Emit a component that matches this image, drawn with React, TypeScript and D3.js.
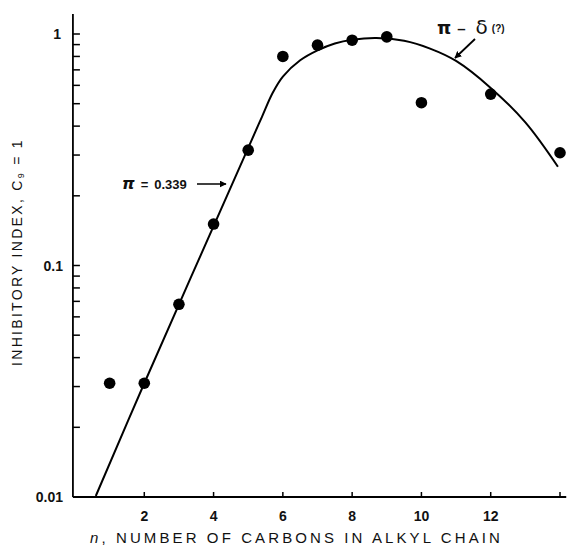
import React from "react";
import * as d3 from "d3";

// Measured inhibitory index vs. alkyl chain length
const carbons = [1, 2, 3, 4, 5, 6, 7, 8, 9, 10, 12, 14];
const inhibitoryIndex = [0.031, 0.031, 0.068, 0.151, 0.315, 0.80, 0.895, 0.94, 0.972, 0.505, 0.55, 0.307];

// Fitted curve: linear (log) rise with slope π = 0.339, then bending over
const curveN = [0.6, 2, 5.0, 5.4, 5.7, 6.0, 6.5, 7.0, 7.5, 8.0, 8.7, 9.5, 10.25, 11.0, 12.0, 13.0, 13.94];
const curveY = [0.0101, 0.031, 0.322, 0.44, 0.555, 0.655, 0.77, 0.85, 0.91, 0.945, 0.962, 0.935, 0.865, 0.765, 0.585, 0.415, 0.267];

const xTicks = [2, 4, 6, 8, 10, 12, 14];
const xTickLabels = ["2", "4", "6", "8", "10", "12", ""];
const yMajor = [1, 0.1, 0.01];
const yMajorLabels = ["1", "0.1", "0.01"];

const W = 570;
const H = 546;

export default function App() {
  const x = d3.scaleLinear().domain([0, 14]).range([75, 560]);
  const y = d3.scaleLog().domain([0.01, 1]).range([497, 34]);

  const xLeft = x(-0.06);
  const xRight = x(14.18);
  const yBottom = y(0.01);
  const yTop = 14;

  const minor: number[] = [];
  [0.01, 0.1].forEach((d) => {
    for (let k = 2; k <= 9; k++) minor.push(d * k);
  });

  const line = d3
    .line<number>()
    .x((_, i) => x(curveN[i]))
    .y((d) => y(d))
    .curve(d3.curveCatmullRom.alpha(0.5));

  const font = "'Liberation Sans', Arial, sans-serif";

  return (
    <svg width={W} height={H} style={{ display: "block", position: "absolute", left: 0, top: 0, background: "#fff" }}>
      <defs>
        <marker id="ah" viewBox="0 0 10 10" refX="9" refY="5" markerWidth="7" markerHeight="7" orient="auto-start-reverse" markerUnits="userSpaceOnUse">
          <path d="M0,0 L10,5 L0,10 z" fill="#000" />
        </marker>
      </defs>
      <rect width={W} height={H} fill="#fff" />

      {/* axes */}
      <line x1={xLeft} y1={yTop} x2={xLeft} y2={yBottom} stroke="#000" strokeWidth={1.8} />
      <line x1={xLeft} y1={yBottom} x2={xRight} y2={yBottom} stroke="#000" strokeWidth={1.8} />

      {/* y ticks */}
      {yMajor.concat(minor).map((v, i) => (
        <line key={"yt" + i} x1={xLeft} x2={xLeft + 7} y1={y(v)} y2={y(v)} stroke="#000" strokeWidth={1.5} />
      ))}
      {yMajor.map((v, i) => (
        <text key={"yl" + i} x={i === 0 ? 61 : 63} y={y(v) + 5} textAnchor="end" fontFamily={font} fontSize={14} fontWeight="bold" fill="#111">
          {yMajorLabels[i]}
        </text>
      ))}

      {/* x ticks */}
      {xTicks.map((v, i) => (
        <g key={"xt" + i}>
          <line x1={x(v)} x2={x(v)} y1={yBottom} y2={yBottom - 5} stroke="#000" strokeWidth={1.5} />
          <text x={x(v)} y={521} textAnchor="middle" fontFamily={font} fontSize={14} fontWeight="bold" fill="#111">
            {xTickLabels[i]}
          </text>
        </g>
      ))}

      {/* axis titles */}
      <text x={90} y={543} fontFamily={font} fontSize={15} letterSpacing={3.1} fill="#111">
        <tspan fontStyle="italic">n</tspan>, NUMBER OF CARBONS IN ALKYL CHAIN
      </text>
      <text transform="translate(22,252) rotate(-90)" textAnchor="middle" fontFamily={font} fontSize={14} letterSpacing={2.3} fill="#111">
        INHIBITORY INDEX, C<tspan fontSize={9} dy={2}>9</tspan><tspan dy={-2}> = 1</tspan>
      </text>

      {/* fitted curve */}
      <path d={line(curveY) || ""} fill="none" stroke="#000" strokeWidth={2} />

      {/* data points */}
      {carbons.map((n, i) => (
        <circle key={"p" + i} cx={x(n)} cy={y(inhibitoryIndex[i])} r={5.8} fill="#000" />
      ))}

      {/* slope annotation */}
      <text x={122} y={189} fontFamily={font} fontSize={13} fontWeight="bold" fill="#111">
        <tspan fontFamily="'DejaVu Sans', sans-serif" fontStyle="italic" fontSize={16}>π</tspan>
        <tspan dx={6}>=</tspan>
        <tspan dx={6}>0.339</tspan>
      </text>
      <line x1={197} y1={184} x2={226} y2={184} stroke="#000" strokeWidth={1.5} markerEnd="url(#ah)" />

      {/* departure annotation */}
      <text x={437} y={34} fontFamily={font} fontSize={15} fontWeight="bold" fill="#111">
        <tspan fontFamily="'DejaVu Sans', sans-serif" fontSize={18}>π</tspan>
        <tspan dx={6}>–</tspan>
        <tspan dx={10} fontFamily="'DejaVu Sans', sans-serif" fontSize={20} fontWeight="normal">δ</tspan>
        <tspan dx={4} fontSize={10} dy={-2}>(?)</tspan>
      </text>
      <line x1={475} y1={39} x2={455} y2={58} stroke="#000" strokeWidth={1.8} markerEnd="url(#ah)" />
    </svg>
  );
}
